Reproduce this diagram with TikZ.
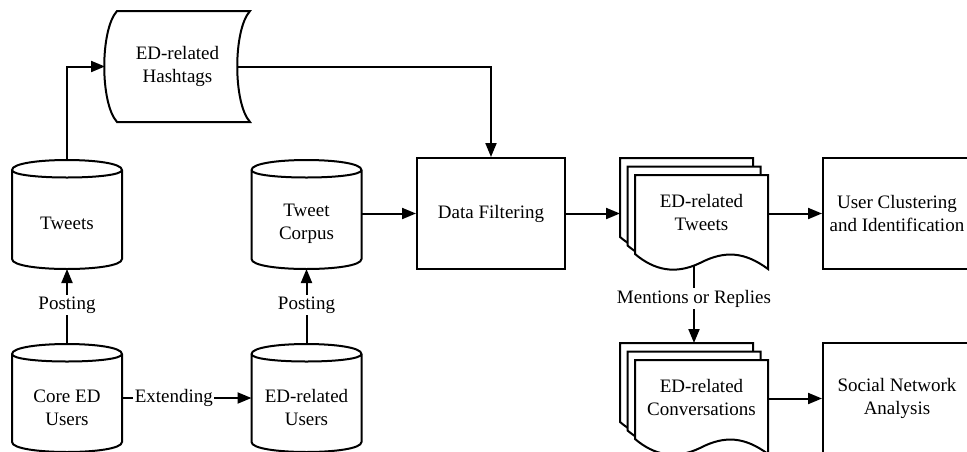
\documentclass[tikz,border=0pt]{standalone}
\usepackage{fontspec}
\setmainfont{Liberation Serif}
\usetikzlibrary{arrows.meta}
\newcommand\cylout[1]{%
  \draw[lw, fill=white] ([yshift=-10pt]#1.north west) .. controls +(0,13.33) and +(0,13.33) .. ([yshift=-10pt]#1.north east) -- ([yshift=10pt]#1.south east) .. controls +(0,-13.33) and +(0,-13.33) .. ([yshift=10pt]#1.south west) -- cycle;
  \draw[lw] ([yshift=-10pt]#1.north west) .. controls +(0,-10) and +(0,-10) .. ([yshift=-10pt]#1.north east);}
\begin{document}
\begin{tikzpicture}[x=1pt,y=1pt,
  lw/.style={line width=2pt},
  txt/.style={font=\fontsize{19}{23}\selectfont, align=center, inner sep=0pt},
  frame/.style={draw=none, inner sep=0pt, outer sep=0pt},
  cylbox/.style={frame, minimum width=110pt, minimum height=109pt},
  rectbox/.style={draw, lw, minimum width=148pt, minimum height=111pt, txt},
  arr/.style={lw, -{Triangle[length=14pt,width=11pt]}},
  lbl/.style={txt, fill=white, inner sep=1.5pt}]
\useasboundingbox (0,0) rectangle (967,-451);

% Hashtags (stored data)
\draw[lw, fill=white] (117,-11) -- (250,-11) .. controls (233,-30) and (233,-103) .. (250,-122) -- (117,-122) .. controls (100,-103) and (100,-30) .. (117,-11) -- cycle;
\node[frame, txt, minimum width=145pt, minimum height=111pt] (hash) at (177.5,-66.5) {ED-related\\Hashtags};
\coordinate (hashE) at (237,-66.5);

% cylinders
\node[cylbox] (tweets) at (67,-214.5) {};
\cylout{tweets}
\node[txt] (tweetsT) at (67,-223) {Tweets};

\node[cylbox] (corpus) at (306.5,-214.5) {};
\cylout{corpus}
\node[txt] (corpusT) at (306.5,-223.5) {Tweet\\Corpus};

\node[cylbox, minimum height=108pt] (core) at (67,-398) {};
\cylout{core}
\node[txt] (coreT) at (67,-407.5) {Core ED\\Users};

\node[cylbox, minimum height=108pt] (edusers) at (306.5,-398) {};
\cylout{edusers}
\node[txt] (edusersT) at (306.5,-407.5) {ED-related\\Users};

% Data filtering
\node[rectbox] (df) at (491,-213.5) {Data Filtering};

% document stacks
\foreach \ox/\oy in {620/158, 627.5/166.5, 635/175}
  \draw[lw, fill=white, shift={(\ox,-\oy)}] (0,0) -- (133,0) -- (133,-94) .. controls (110,-77) and (90,-75) .. (65,-88) .. controls (40,-100) and (19,-95) .. (0,-79) -- cycle;
\node[frame, minimum width=148pt, minimum height=111pt] (twdoc) at (694,-213.5) {};
\node[txt] (twdocT) at (701.5,-212.5) {ED-related\\Tweets};
\coordinate (twB) at (694,-265);

\foreach \ox/\oy in {620/343, 627.5/351.5, 635/360}
  \draw[lw, fill=white, shift={(\ox,-\oy)}] (0,0) -- (133,0) -- (133,-94) .. controls (110,-77) and (90,-75) .. (65,-88) .. controls (40,-100) and (19,-95) .. (0,-79) -- cycle;
\node[frame, minimum width=148pt, minimum height=111pt] (convdoc) at (694,-398.5) {};
\node[txt] (convdocT) at (701.5,-397.5) {ED-related\\Conversations};

% right boxes
\node[rectbox] (uc) at (897,-213.5) {User Clustering\\and Identification};
\node[rectbox] (sna) at (897,-398.5) {Social Network\\Analysis};

% connectors
\draw[arr] (tweets.north) |- (hash.west);
\draw[arr] (hashE) -| (df.north);
\draw[arr] (core.north) -- node[lbl, pos=0.52] (post1) {Posting} (tweets.south);
\draw[arr] (edusers.north) -- node[lbl, pos=0.52] (post2) {Posting} (corpus.south);
\draw[arr] (core.east) -- node[lbl, pos=0.4] (ext) {Extending} (edusers.west);
\draw[arr] (corpus.east |- df.west) -- (df.west);
\draw[arr] (df.east) -- (twdoc.west);
\draw[arr] (twdoc.east) -- (uc.west);
\draw[arr] (twB) -- node[lbl, pos=0.43] (ment) {Mentions or Replies} (convdoc.north);
\draw[arr] (convdoc.east) -- (sna.west);
\end{tikzpicture}
\end{document}
